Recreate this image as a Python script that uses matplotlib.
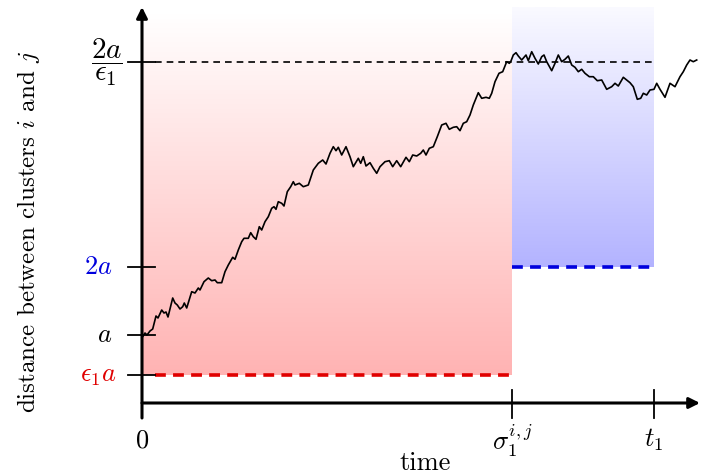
import numpy as np
import matplotlib
matplotlib.use("Agg")
import matplotlib.pyplot as plt
from matplotlib.colors import LinearSegmentedColormap

plt.rcParams['mathtext.fontset'] = 'cm'

# time (1 unit ~ 100 px), distance (1 unit ~ 10 px)
t_path = [0.0, 0.007, 0.03, 0.05, 0.08, 0.107, 0.14, 0.16, 0.197, 0.22, 0.24, 0.26, 0.307, 0.33, 0.353,
          0.38, 0.407, 0.423, 0.447, 0.497, 0.53, 0.563, 0.58, 0.62, 0.663, 0.697, 0.73, 0.753, 0.797, 0.83,
          0.863, 0.907, 0.93, 0.963, 0.997, 1.02, 1.063, 1.087, 1.113, 1.14, 1.173, 1.197, 1.23, 1.263, 1.297,
          1.32, 1.34, 1.363, 1.397, 1.42, 1.453, 1.487, 1.513, 1.53, 1.573,
          1.613, 1.663, 1.713, 1.763, 1.807, 1.84, 1.88, 1.913, 1.94, 1.963, 1.997, 2.04, 2.08, 2.113, 2.163,
          2.187, 2.213, 2.24, 2.28, 2.313, 2.347, 2.38, 2.43, 2.473, 2.507, 2.547, 2.587, 2.64, 2.673, 2.707,
          2.747, 2.787, 2.813, 2.84, 2.873, 2.913, 2.953, 2.997, 3.04, 3.073, 3.113, 3.147, 3.18, 3.213, 3.247,
          3.28, 3.313, 3.363, 3.397, 3.44, 3.473, 3.497, 3.53, 3.57, 3.607, 3.647, 3.673,
          3.687, 3.713, 3.74, 3.763, 3.797, 3.84, 3.863, 3.897, 3.93, 3.963, 3.997, 4.02, 4.047, 4.097, 4.13,
          4.163, 4.197, 4.23, 4.263, 4.297, 4.33, 4.363, 4.397, 4.43, 4.473, 4.513, 4.553, 4.597, 4.647, 4.697,
          4.73, 4.763, 4.813, 4.847, 4.88, 4.913, 4.953, 4.987, 5.013, 5.047, 5.08, 5.12, 5.147, 5.18, 5.23,
          5.28, 5.33, 5.38, 5.413, 5.447, 5.48, 5.513, 5.547]
d_path = [6.8, 6.63, 7.0, 6.8, 7.2, 7.4, 8.7, 8.5, 9.3, 9.0, 9.1, 8.6, 10.5, 10.0, 9.8,
          9.4, 9.63, 10.0, 9.5, 11.13, 11.0, 11.5, 11.3, 12.13, 12.5, 12.23, 12.3, 12.03, 12.03, 13.13,
          13.8, 14.57, 14.37, 15.3, 16.13, 16.47, 16.47, 17.03, 16.63, 16.37, 17.63, 17.3, 18.13, 18.63, 19.47,
          19.63, 19.37, 20.13, 19.97, 19.7, 21.13, 21.63, 22.13, 21.8, 21.97,
          21.63, 21.8, 23.3, 23.97, 24.3, 23.9, 24.97, 25.63, 25.23, 25.57, 24.8, 25.63, 24.63, 23.63, 24.47,
          23.97, 24.63, 23.7, 24.03, 23.47, 22.97, 23.63, 24.13, 24.23, 23.63, 24.23, 23.63, 24.57, 24.13, 24.8,
          24.7, 24.97, 25.3, 24.8, 25.47, 25.63, 26.63, 27.8, 27.97, 27.37, 27.57, 27.63, 27.23, 27.97, 28.13,
          28.8, 29.8, 31.03, 30.47, 30.57, 30.47, 30.97, 32.13, 32.97, 33.13, 34.13, 33.97,
          34.13, 34.8, 35.03, 34.7, 34.3, 34.8, 34.23, 35.13, 34.47, 33.9, 34.63, 34.8, 34.13, 33.23, 33.97,
          34.8, 34.13, 34.37, 34.7, 33.8, 33.57, 33.13, 33.37, 32.97, 32.63, 32.63, 32.23, 32.3, 31.37, 31.63,
          31.97, 31.7, 32.57, 32.3, 32.03, 31.63, 30.37, 30.47, 30.97, 30.8, 31.3, 31.37, 31.97, 31.37, 30.57,
          31.97, 31.63, 32.63, 33.13, 33.8, 34.3, 34.13, 34.3]

# levels on the distance axis
eps_a = 2.8
a_lvl = 6.8
two_a = 13.6
top_lvl = 34.1
# times
sigma = 3.70
t1 = 5.12
t_end = 5.58
d_top = 39.6
shade_top = 39.0

fig = plt.figure(figsize=(7.01, 4.76), dpi=100)
ax = fig.add_axes([0, 0, 1, 1])
ax.set_xlim(-1.42, 5.59)
ax.set_ylim(-7.3, 40.3)
ax.axis('off')

# shaded regions
grad = np.linspace(0, 1, 256).reshape(-1, 1)
reds = LinearSegmentedColormap.from_list('r', ['#ffb3b3', '#ffffff'])
blues = LinearSegmentedColormap.from_list('b', ['#b3b3ff', '#fafaff'])
ax.imshow(grad, cmap=reds, origin='lower', aspect='auto',
          extent=[0, sigma, eps_a, shade_top], zorder=0)
ax.imshow(grad, cmap=blues, origin='lower', aspect='auto',
          extent=[sigma, t1, two_a, d_top], zorder=0)

# dashed levels
ax.plot([0.13, t1], [top_lvl, top_lvl], color='k', lw=1.2, dashes=(4, 3), zorder=1)
ax.plot([0.13, sigma], [eps_a, eps_a], color='#e00000', lw=2.6, dashes=(3, 2), zorder=1)
ax.plot([sigma, t1], [two_a, two_a], color='#0000dd', lw=2.6, dashes=(3, 2), zorder=1)

# path
ax.plot(t_path, d_path, color='k', lw=1.2, zorder=3)

# axes with arrows
ax.annotate('', xy=(t_end, 0), xytext=(0, 0),
            arrowprops=dict(arrowstyle='-|>', color='k', lw=2.2, mutation_scale=16, shrinkA=0, shrinkB=0))
ax.annotate('', xy=(0, d_top), xytext=(0, -1.5),
            arrowprops=dict(arrowstyle='-|>', color='k', lw=2.2, mutation_scale=16, shrinkA=0, shrinkB=0))

# ticks
for lv in [eps_a, a_lvl, two_a, top_lvl]:
    ax.plot([-0.14, 0.13], [lv, lv], color='k', lw=1.3, zorder=4)
for tv in [sigma, t1]:
    ax.plot([tv, tv], [1.3, -1.5], color='k', lw=1.3, zorder=4)

# tick labels
fs = 19
ax.text(-0.35, top_lvl, r'$\dfrac{2a}{\epsilon_1}$', ha='center', va='center', fontsize=21)
ax.text(-0.30, two_a, r'$2a$', ha='right', va='center', fontsize=fs, color='#0000dd')
ax.text(-0.30, a_lvl, r'$a$', ha='right', va='center', fontsize=fs)
ax.text(-0.25, eps_a, r'$\epsilon_1 a$', ha='right', va='center', fontsize=fs, color='#e00000')
ax.text(0, -3.7, r'$0$', ha='center', va='center', fontsize=fs)
ax.text(sigma, -3.7, r'$\sigma_1^{i,j}$', ha='center', va='center', fontsize=fs)
ax.text(t1, -3.7, r'$t_1$', ha='center', va='center', fontsize=fs)

ax.text(2.83, -6.0, 'time', ha='center', va='center', fontsize=19, family='cmr10')
ax.text(-1.13, 17.1, r'distance between clusters $i$ and $j$', ha='center', va='center',
        rotation=90, fontsize=18, family='cmr10')

fig.savefig('out.png', dpi=100)
